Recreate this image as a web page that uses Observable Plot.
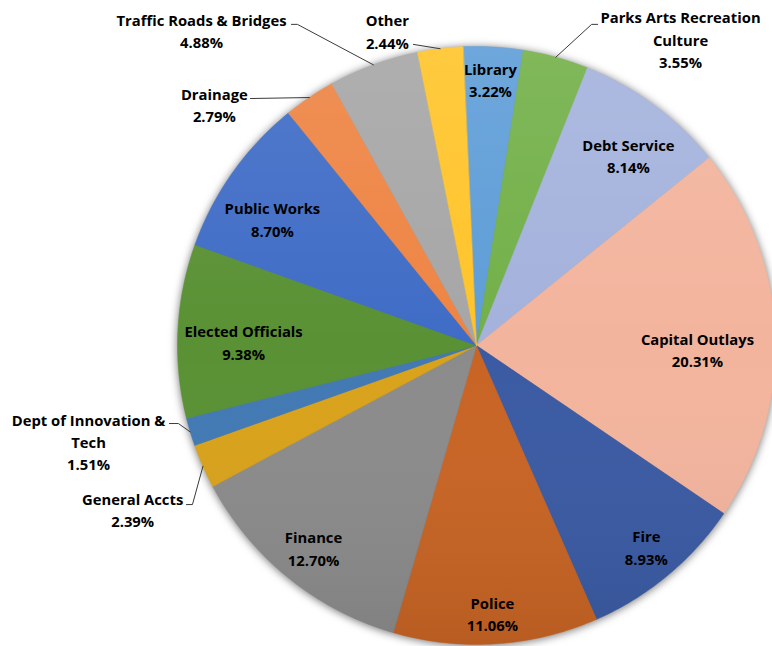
<!DOCTYPE html>
<html><head><meta charset="utf-8">
<script src="https://cdn.jsdelivr.net/npm/d3@7"></script>
<script src="https://cdn.jsdelivr.net/npm/@observablehq/plot@0.6"></script>
<style>html,body{margin:0;padding:0;background:#fff}#chart svg{display:block;overflow:visible}</style>
</head><body><div id="chart"></div>
<script>
// ---- data ----
const categories = ["Library","Parks Arts Recreation Culture","Debt Service","Capital Outlays","Fire","Police","Finance","General Accts","Dept of Innovation & Tech","Elected Officials","Public Works","Drainage","Traffic Roads & Bridges","Other"];
const shares = [3.22,3.55,8.14,20.31,8.93,11.06,12.70,2.39,1.51,9.38,8.70,2.79,4.88,2.44];
const labelNames = ["Library","Parks Arts Recreation\nCulture","Debt Service","Capital Outlays","Fire","Police","Finance","General Accts","Dept of Innovation &\nTech","Elected Officials","Public Works","Drainage","Traffic Roads & Bridges","Other"];
const colors = ["#5E9DD7","#72B048","#A4B2DC","#F3B49D","#3A5AA3","#C86424","#8B8B8B","#D9A21A","#4279B3","#5A9134","#3F6CC6","#EE8443","#A6A6A6","#FFC42A"];

// ---- layout ----
const startAngle = -2.6;            // degrees, clockwise from 12 o'clock
const pieRadius = 299, pieCenter = [476, 345];
const labelPolar = [[3.0,0.894],[33.6,1.233],[38.5,0.816],[90.8,0.739],[139.8,0.880],[176.6,0.895],[218.9,0.868],[244.6,1.273],[256.2,1.336],[271.0,0.779],[301.9,0.804],[312.7,1.193],[318.9,1.399],[344.2,1.095]];
// leader lines: slice index, points near the label (unit coords, y down); end is on the arc at mid angle
const leaderDefs = [
  {i:1,  pts:[[0.405,-1.074],[0.385,-1.074]]},
  {i:7,  pts:[[-0.970,0.532],[-0.950,0.532]]},
  {i:8,  pts:[[-1.027,0.261],[-0.997,0.261]]},
  {i:11, pts:[[-0.756,-0.826]]},
  {i:12, pts:[[-0.619,-1.074],[-0.599,-1.074]]},
  {i:13, pts:[[-0.211,-1.007]]}
];

const total = d3.sum(shares);
const rad = d => d * Math.PI / 180;
const pt = (deg, r) => [r * Math.sin(rad(deg)), -r * Math.cos(rad(deg))];
let acc = 0;
const slices = categories.map((name, i) => {
  const a0 = startAngle + acc / total * 360; acc += shares[i];
  const a1 = startAngle + acc / total * 360;
  return {name, share: shares[i], color: colors[i], a0, a1, mid: (a0 + a1) / 2};
});
function sector(s) {
  const n = Math.max(2, Math.ceil(s.a1 - s.a0));
  const ring = [[0, 0]];
  for (let k = 0; k <= n; k++) ring.push(pt(s.a0 + (s.a1 - s.a0) * k / n, 1));
  ring.push([0, 0]);
  return {type: "Feature", properties: s, geometry: {type: "Polygon", coordinates: [ring]}};
}
const sectors = slices.map(sector);
const disk = (() => { const ring = d3.range(0, 361, 1).map(a => pt(a, 1)); return {type: "Feature", properties: {}, geometry: {type: "Polygon", coordinates: [ring]}}; })();

const labels = slices.map((s, i) => {
  const [x, y] = pt(labelPolar[i][0], labelPolar[i][1]);
  return {x, y, text: labelNames[i] + "\n" + s.share.toFixed(2) + "%"};
});
const leaderPts = [];
leaderDefs.forEach(d => {
  d.pts.forEach(p => leaderPts.push({id: d.i, x: p[0], y: p[1]}));
  const [x, y] = pt(slices[d.i].mid, 1);
  leaderPts.push({id: d.i, x, y});
});

const chart = Plot.plot({
  width: 772, height: 646,
  margin: 0,
  style: {background: "transparent", overflow: "visible"},
  projection: d3.geoIdentity().scale(pieRadius).translate(pieCenter),
  color: {type: "identity"},
  marks: [
    Plot.geo(sectors, {fill: d => d.properties.color, stroke: d => d.properties.color, strokeWidth: 0.5}),
    Plot.geo([disk], {fill: "url(#pieShade)"}),
    Plot.line(leaderPts, {x: "x", y: "y", z: "id", stroke: "#3a3a3a", strokeWidth: 1}),
    Plot.text(labels, {x: "x", y: "y", text: "text", fill: "#000", fontSize: 14.8, fontWeight: "bold", fontFamily: "'Open Sans', sans-serif", lineHeight: 1.5, textAnchor: "middle", lineAnchor: "middle"})
  ]
});
// gradient and soft shadow (styling only)
const ns = "http://www.w3.org/2000/svg";
const defs = document.createElementNS(ns, "defs");
defs.innerHTML = '<linearGradient id="pieShade" x1="0" y1="0" x2="0" y2="1"><stop offset="0" stop-color="#fff" stop-opacity="0.10"/><stop offset="0.5" stop-color="#fff" stop-opacity="0"/><stop offset="1" stop-color="#000" stop-opacity="0.08"/></linearGradient>';
chart.insertBefore(defs, chart.firstChild);
const geos = chart.querySelectorAll('g[aria-label="geo"]');
if (geos[0]) geos[0].style.filter = "drop-shadow(0px 1px 4px rgba(0,0,0,0.55))";
document.getElementById("chart").appendChild(chart);
</script>
</body></html>
